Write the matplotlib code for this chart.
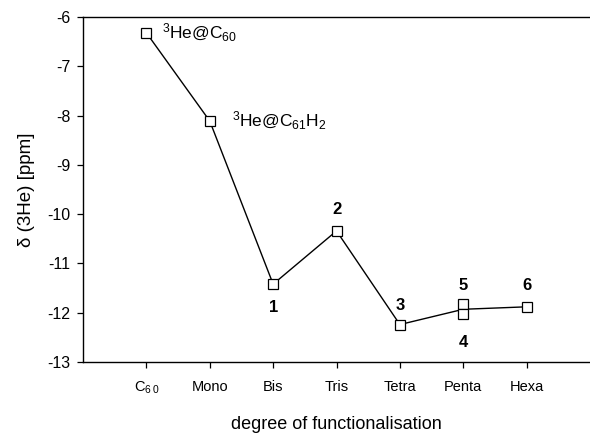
import matplotlib
matplotlib.use('Agg')
import matplotlib.pyplot as plt

# degree of functionalisation vs 3He shift
categories = ['$\\mathregular{C_{6\\,0}}$', 'Mono', 'Bis', 'Tris', 'Tetra', 'Penta', 'Hexa']
xpos = [1, 2, 3, 4, 5, 6, 7]
line_y = [-6.32, -8.11, -11.42, -10.34, -12.24, -11.93, -11.88]

# individual compounds (two penta isomers)
pts_x = [1, 2, 3, 4, 5, 6, 6, 7]
pts_y = [-6.32, -8.11, -11.42, -10.34, -12.24, -11.83, -12.03, -11.88]

num_labels = ['1', '2', '3', '4', '5', '6']
num_x = [3, 4, 5, 6, 6, 7]
num_y = [-11.9, -9.9, -11.85, -12.6, -11.45, -11.45]

plt.rcParams['font.family'] = ['Liberation Sans', 'DejaVu Sans']

fig = plt.figure(figsize=(5.90, 4.37), dpi=100)
ax = fig.add_axes([0.1407, 0.1716, 0.8593, 0.7894])

ax.plot(xpos, line_y, color='black', lw=1.0, zorder=2)
ax.plot(pts_x, pts_y, ls='none', marker='s', ms=6.5, mfc='white',
        mec='black', mew=0.9, zorder=3)

ax.text(1.25, -6.32, '$\\mathregular{^{3}He@C_{60}}$', fontsize=12.5,
        va='center', ha='left')
ax.text(2.35, -8.11, '$\\mathregular{^{3}He@C_{61}H_{2}}$', fontsize=12.5,
        va='center', ha='left')
for lab, x, y in zip(num_labels, num_x, num_y):
    ax.text(x, y, lab, fontsize=12, fontweight='bold', ha='center', va='center')

ax.set_xlim(0, 8)
ax.set_ylim(-13, -6)
ax.set_xticks(xpos)
ax.set_xticklabels(categories, fontsize=10.5)
ax.set_yticks(range(-13, -5))
ax.set_yticklabels([str(v) for v in range(-13, -5)], fontsize=11.5)
ax.tick_params(direction='out', length=4, width=0.9, pad=5)
ax.tick_params(axis='x', pad=9)
ax.spines['right'].set_visible(False)
for s in ['left', 'top', 'bottom']:
    ax.spines[s].set_linewidth(1.0)

ax.set_xlabel('degree of functionalisation', fontsize=13, labelpad=14)
ax.set_ylabel('δ (3He) [ppm]', fontsize=13.5, labelpad=9)

fig.savefig('out.png', dpi=100)
